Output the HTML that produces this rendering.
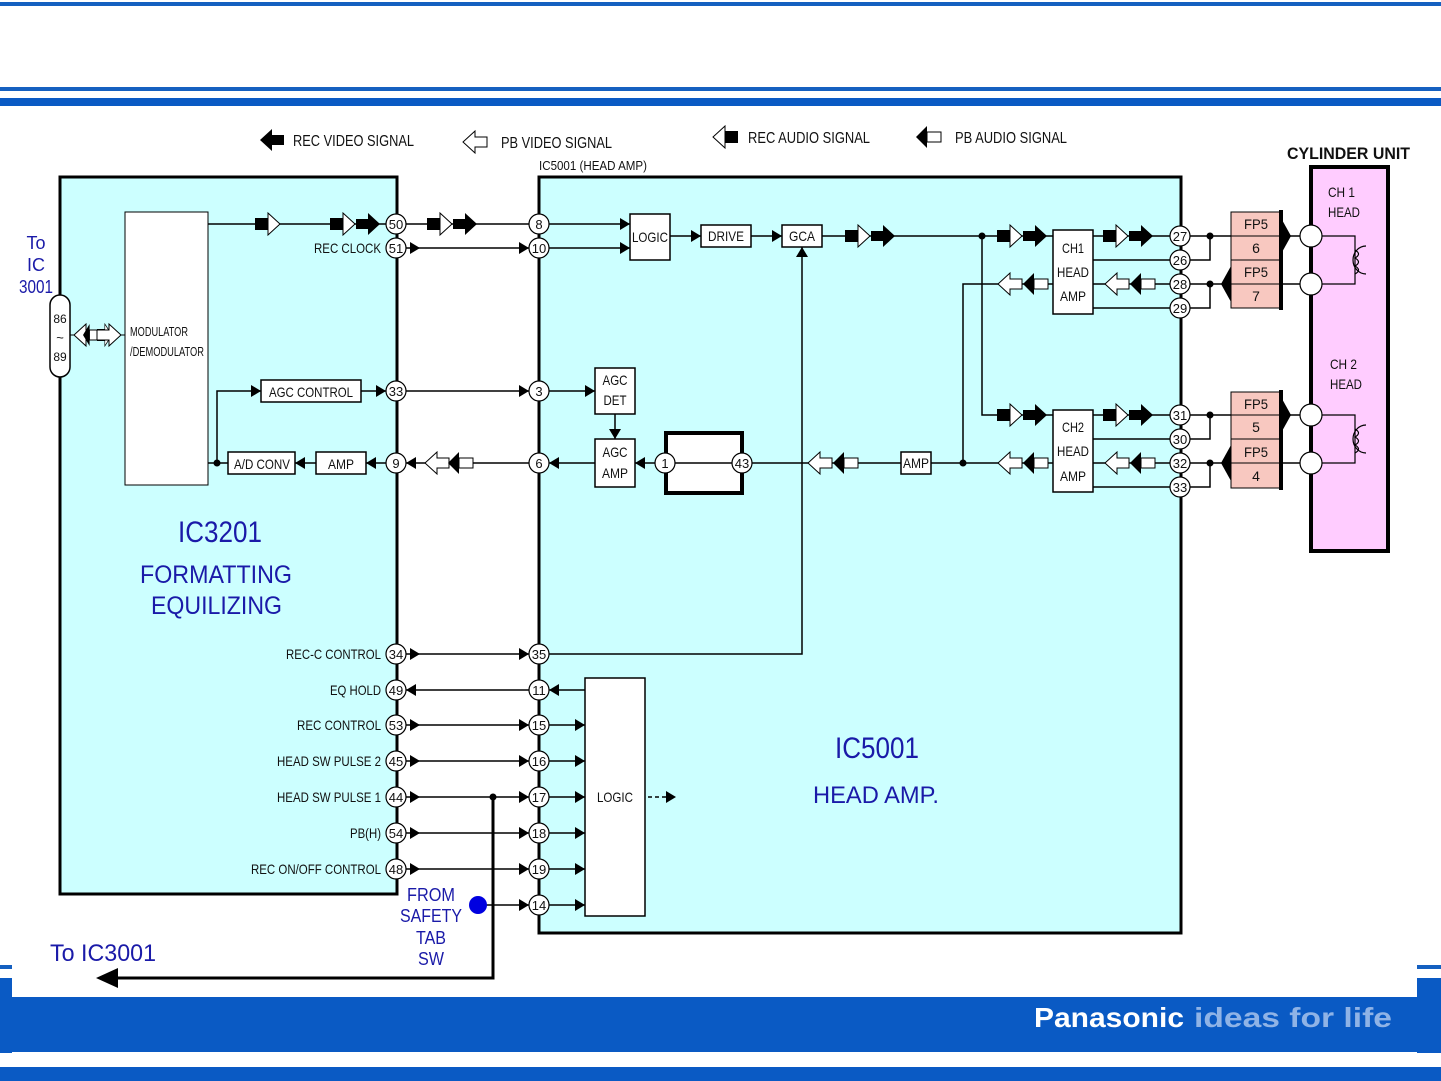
<!DOCTYPE html>
<html><head><meta charset="utf-8"><style>
html,body{margin:0;padding:0;background:#fff}
svg{display:block}
text{font-family:"Liberation Sans",sans-serif;fill:#111}
.b{fill:#1a1aa8;font-family:"Liberation Sans",sans-serif}
</style></head><body>
<svg width="1441" height="1081" viewBox="0 0 1441 1081" xmlns="http://www.w3.org/2000/svg">
<defs>
<g id="bk"><polygon points="0,-5 12,-5 12,-11 24,0 12,11 12,5 0,5" fill="#000"/></g>
<g id="rh"><rect x="0" y="-6" width="13" height="12" fill="#000"/><polygon points="13,-11 25,0 13,11" fill="#fff" stroke="#000" stroke-width="1"/></g>
<g id="ho"><polygon points="0,-5 12,-5 12,-11 24,0 12,11 12,5 0,5" fill="#fff" stroke="#000" stroke-width="1"/></g>
<g id="bh"><rect x="0" y="-5" width="14" height="10" fill="#fff" stroke="#000" stroke-width="1"/><polygon points="14,-11 25,0 14,11" fill="#000"/></g>
<g id="ah"><polygon points="-10,-6 0,0 -10,6" fill="#000"/></g>
</defs>

<rect x="0" y="2" width="1441" height="4" fill="#1560c0"/>
<rect x="0" y="87" width="1441" height="4" fill="#1560c0"/>
<rect x="0" y="98" width="1441" height="8" fill="#0a5ac4"/>
<rect x="0" y="965" width="12" height="4" fill="#1560c0"/>
<rect x="1417" y="965" width="24" height="4" fill="#1560c0"/>
<rect x="0" y="978" width="12" height="75" fill="#0a5ac4"/>
<rect x="1417" y="978" width="24" height="75" fill="#0a5ac4"/>
<rect x="0" y="997" width="1441" height="55" fill="#0a5ac4"/>
<rect x="0" y="1067" width="1441" height="14" fill="#0a5ac4"/>
<text x="1034" y="1027" style="font-weight:bold;font-size:28px;fill:#fff" textLength="150" lengthAdjust="spacingAndGlyphs">Panasonic</text>
<text x="1194" y="1027" style="font-weight:bold;font-size:28px;fill:#8fb3e6" textLength="198" lengthAdjust="spacingAndGlyphs">ideas for life</text>

<use href="#bk" transform="translate(284,140) scale(-1,1)"/>
<text x="293" y="146" font-size="16" textLength="121" lengthAdjust="spacingAndGlyphs">REC VIDEO SIGNAL</text>
<use href="#ho" transform="translate(487,142) scale(-1,1)"/>
<text x="501" y="148" font-size="16" textLength="111" lengthAdjust="spacingAndGlyphs">PB VIDEO SIGNAL</text>
<use href="#rh" transform="translate(738,137) scale(-1,1)"/>
<text x="748" y="143" font-size="16" textLength="122" lengthAdjust="spacingAndGlyphs">REC AUDIO SIGNAL</text>
<use href="#bh" transform="translate(941,137) scale(-1,1)"/>
<text x="955" y="143" font-size="16" textLength="112" lengthAdjust="spacingAndGlyphs">PB AUDIO SIGNAL</text>
<text x="539" y="170" font-size="13" textLength="108" lengthAdjust="spacingAndGlyphs">IC5001 (HEAD AMP)</text>
<text x="1287" y="159" style="font-weight:bold;font-size:17px" textLength="123" lengthAdjust="spacingAndGlyphs">CYLINDER UNIT</text>

<rect x="60" y="177" width="337" height="717" fill="#ccffff" stroke="#000" stroke-width="3"/>
<rect x="539" y="177" width="642" height="756" fill="#ccffff" stroke="#000" stroke-width="3"/>
<rect x="1311" y="167" width="77" height="384" fill="#ffccff" stroke="#000" stroke-width="4"/>
<text x="1328" y="197" font-size="14" textLength="27" lengthAdjust="spacingAndGlyphs">CH 1</text><text x="1328" y="217" font-size="14" textLength="32" lengthAdjust="spacingAndGlyphs">HEAD</text>
<text x="1330" y="369" font-size="14" textLength="27" lengthAdjust="spacingAndGlyphs">CH 2</text><text x="1330" y="389" font-size="14" textLength="32" lengthAdjust="spacingAndGlyphs">HEAD</text>

<text class="b" x="36" y="249" font-size="18" text-anchor="middle">To</text>
<text class="b" x="36" y="271" font-size="18" text-anchor="middle">IC</text>
<text class="b" x="36" y="293" font-size="18" text-anchor="middle" textLength="34" lengthAdjust="spacingAndGlyphs">3001</text>
<rect x="50" y="295" width="20" height="82" rx="10" fill="#fff" stroke="#000" stroke-width="1.5"/>
<text x="60" y="323" font-size="12" text-anchor="middle">86</text>
<text x="60" y="342" font-size="13" text-anchor="middle">~</text>
<text x="60" y="361" font-size="12" text-anchor="middle">89</text>
<line x1="70" y1="335" x2="125" y2="335" stroke="#000"/>
<use href="#ho" transform="translate(98,335) scale(-1,1)"/>
<use href="#bh" transform="translate(98,335) scale(-0.6,1)"/>
<use href="#rh" transform="translate(97,335) scale(0.6,1)"/>
<use href="#ho" transform="translate(97,335)"/>
<rect x="125" y="212" width="83" height="273" fill="#fff" stroke="#000"/>
<text x="130" y="336" font-size="13" textLength="58" lengthAdjust="spacingAndGlyphs">MODULATOR</text>
<text x="130" y="356" font-size="13" textLength="74" lengthAdjust="spacingAndGlyphs">/DEMODULATOR</text>

<g stroke="#000" stroke-width="1.5" fill="none">
<line x1="208" y1="224" x2="386" y2="224"/>
<line x1="406" y1="224" x2="529" y2="224"/>
<line x1="549" y1="224" x2="630" y2="224"/>
<line x1="406" y1="248" x2="529" y2="248"/>
<line x1="549" y1="248" x2="630" y2="248"/>
<line x1="670" y1="236" x2="701" y2="236"/>
<line x1="751" y1="236" x2="782" y2="236"/>
<line x1="822" y1="236" x2="1053" y2="236"/>
<polyline points="982,236 982,415 1053,415"/>
<line x1="1093" y1="236" x2="1170" y2="236"/>
<line x1="1093" y1="260" x2="1170" y2="260"/>
<line x1="1093" y1="284" x2="1170" y2="284"/>
<line x1="1093" y1="308" x2="1170" y2="308"/>
<line x1="1093" y1="415" x2="1170" y2="415"/>
<line x1="1093" y1="439" x2="1170" y2="439"/>
<line x1="1093" y1="463" x2="1170" y2="463"/>
<line x1="1093" y1="487" x2="1170" y2="487"/>
<polyline points="1053,284 963,284 963,463"/>
<line x1="931" y1="463" x2="1053" y2="463"/>
<line x1="743" y1="463" x2="901" y2="463"/>
<line x1="635" y1="463" x2="655" y2="463"/>
<line x1="549" y1="463" x2="595" y2="463"/>
<line x1="406" y1="463" x2="529" y2="463"/>
<line x1="366" y1="463" x2="386" y2="463"/>
<line x1="295" y1="463" x2="316" y2="463"/>
<polyline points="228,463 208,463"/>
<polyline points="217,463 217,391 261,391"/>
<line x1="361" y1="391" x2="386" y2="391"/>
<line x1="406" y1="391" x2="529" y2="391"/>
<line x1="549" y1="391" x2="595" y2="391"/>
<line x1="615" y1="414" x2="615" y2="439"/>
<polyline points="549,654 802,654 802,247"/>
<line x1="406" y1="654" x2="529" y2="654"/>
<line x1="406" y1="690" x2="529" y2="690"/>
<line x1="549" y1="690" x2="585" y2="690"/>
<line x1="406" y1="725" x2="529" y2="725"/><line x1="549" y1="725" x2="585" y2="725"/>
<line x1="406" y1="761" x2="529" y2="761"/><line x1="549" y1="761" x2="585" y2="761"/>
<line x1="406" y1="797" x2="529" y2="797"/><line x1="549" y1="797" x2="585" y2="797"/>
<line x1="406" y1="833" x2="529" y2="833"/><line x1="549" y1="833" x2="585" y2="833"/>
<line x1="406" y1="869" x2="529" y2="869"/><line x1="549" y1="869" x2="585" y2="869"/>
<line x1="478" y1="905" x2="529" y2="905"/><line x1="549" y1="905" x2="585" y2="905"/>
<line x1="648" y1="797" x2="668" y2="797" stroke-dasharray="4,3"/>
<polyline points="1190,236 1300,236"/><polyline points="1190,260 1210,260 1210,236"/>
<polyline points="1190,284 1300,284"/><polyline points="1190,308 1210,308 1210,284"/>
<polyline points="1190,415 1300,415"/><polyline points="1190,439 1210,439 1210,415"/>
<polyline points="1190,463 1300,463"/><polyline points="1190,487 1210,487 1210,463"/>
</g>
<polyline points="493,797 493,978 110,978" fill="none" stroke="#000" stroke-width="3"/>
<polygon points="96,978 118,968 118,988" fill="#000"/>
<text class="b" x="50" y="961" font-size="24" textLength="106" lengthAdjust="spacingAndGlyphs">To IC3001</text>

<g fill="#000">
<circle cx="982" cy="236" r="3.5"/><circle cx="963" cy="463" r="3.5"/><circle cx="217" cy="463" r="3.5"/>
<circle cx="493" cy="797" r="3.5"/>
<circle cx="1210" cy="236" r="3.5"/><circle cx="1210" cy="284" r="3.5"/><circle cx="1210" cy="415" r="3.5"/><circle cx="1210" cy="463" r="3.5"/>
</g>
<circle cx="478" cy="905" r="9" fill="#0000e0"/>
<text class="b" x="431" y="901" font-size="18" text-anchor="middle" textLength="48" lengthAdjust="spacingAndGlyphs">FROM</text>
<text class="b" x="431" y="922" font-size="18" text-anchor="middle" textLength="62" lengthAdjust="spacingAndGlyphs">SAFETY</text>
<text class="b" x="431" y="944" font-size="18" text-anchor="middle" textLength="30" lengthAdjust="spacingAndGlyphs">TAB</text>
<text class="b" x="431" y="965" font-size="18" text-anchor="middle" textLength="26" lengthAdjust="spacingAndGlyphs">SW</text>

<use href="#ah" transform="translate(630,224)"/><use href="#ah" transform="translate(630,248)"/>
<use href="#ah" transform="translate(529,248)"/><use href="#ah" transform="translate(420,248)"/>
<use href="#ah" transform="translate(701,236)"/><use href="#ah" transform="translate(782,236)"/>
<use href="#ah" transform="translate(802,247) rotate(-90)"/>
<use href="#ah" transform="translate(261,391)"/><use href="#ah" transform="translate(386,391)"/>
<use href="#ah" transform="translate(529,391)"/><use href="#ah" transform="translate(595,391)"/>
<use href="#ah" transform="translate(615,439) rotate(90)"/>
<use href="#ah" transform="translate(635,463) scale(-1,1)"/>
<use href="#ah" transform="translate(549,463) scale(-1,1)"/>
<use href="#ah" transform="translate(406,463) scale(-1,1)"/>
<use href="#ah" transform="translate(366,463) scale(-1,1)"/>
<use href="#ah" transform="translate(295,463) scale(-1,1)"/>
<use href="#ah" transform="translate(420,654)"/><use href="#ah" transform="translate(529,654)"/>
<use href="#ah" transform="translate(406,690) scale(-1,1)"/><use href="#ah" transform="translate(549,690) scale(-1,1)"/>
<use href="#ah" transform="translate(420,725)"/><use href="#ah" transform="translate(529,725)"/><use href="#ah" transform="translate(585,725)"/>
<use href="#ah" transform="translate(420,761)"/><use href="#ah" transform="translate(529,761)"/><use href="#ah" transform="translate(585,761)"/>
<use href="#ah" transform="translate(420,797)"/><use href="#ah" transform="translate(529,797)"/><use href="#ah" transform="translate(585,797)"/>
<use href="#ah" transform="translate(420,833)"/><use href="#ah" transform="translate(529,833)"/><use href="#ah" transform="translate(585,833)"/>
<use href="#ah" transform="translate(420,869)"/><use href="#ah" transform="translate(529,869)"/><use href="#ah" transform="translate(585,869)"/>
<use href="#ah" transform="translate(529,905)"/><use href="#ah" transform="translate(585,905)"/>
<use href="#ah" transform="translate(676,797)"/>

<use href="#rh" transform="translate(255,224)"/>
<use href="#rh" transform="translate(330,224)"/><use href="#bk" transform="translate(356,224)"/>
<use href="#rh" transform="translate(427,224)"/><use href="#bk" transform="translate(453,224)"/>
<use href="#rh" transform="translate(845,236)"/><use href="#bk" transform="translate(871,236)"/>
<use href="#rh" transform="translate(997,236)"/><use href="#bk" transform="translate(1023,236)"/>
<use href="#rh" transform="translate(997,415)"/><use href="#bk" transform="translate(1023,415)"/>
<use href="#rh" transform="translate(1103,236)"/><use href="#bk" transform="translate(1129,236)"/>
<use href="#rh" transform="translate(1103,415)"/><use href="#bk" transform="translate(1129,415)"/>
<use href="#ho" transform="translate(1022,284) scale(-1,1)"/><use href="#bh" transform="translate(1048,284) scale(-1,1)"/>
<use href="#ho" transform="translate(1129,284) scale(-1,1)"/><use href="#bh" transform="translate(1155,284) scale(-1,1)"/>
<use href="#ho" transform="translate(1022,463) scale(-1,1)"/><use href="#bh" transform="translate(1048,463) scale(-1,1)"/>
<use href="#ho" transform="translate(1129,463) scale(-1,1)"/><use href="#bh" transform="translate(1155,463) scale(-1,1)"/>
<use href="#ho" transform="translate(832,463) scale(-1,1)"/><use href="#bh" transform="translate(858,463) scale(-1,1)"/>
<use href="#ho" transform="translate(449,463) scale(-1,1)"/><use href="#bh" transform="translate(473,463) scale(-1,1)"/>

<g fill="#fff" stroke="#000" stroke-width="1.5">
<rect x="630" y="214" width="40" height="46"/>
<rect x="701" y="225" width="50" height="22"/>
<rect x="782" y="225" width="40" height="22"/>
<rect x="595" y="368" width="40" height="46"/>
<rect x="595" y="439" width="40" height="48"/>
<rect x="901" y="452" width="30" height="22"/>
<rect x="1053" y="230" width="40" height="84"/>
<rect x="1053" y="410" width="40" height="82"/>
<rect x="261" y="380" width="100" height="22"/>
<rect x="228" y="452" width="67" height="22"/>
<rect x="316" y="452" width="50" height="22"/>
<rect x="585" y="678" width="60" height="238"/>
</g>
<rect x="666" y="433" width="76" height="60" fill="#fff" stroke="#000" stroke-width="4"/>
<line x1="666" y1="463" x2="742" y2="463" stroke="#000" stroke-width="1.5"/>
<g font-size="14" text-anchor="middle" lengthAdjust="spacingAndGlyphs">
<text x="650" y="242" textLength="36" lengthAdjust="spacingAndGlyphs">LOGIC</text>
<text x="726" y="241" textLength="36" lengthAdjust="spacingAndGlyphs">DRIVE</text>
<text x="802" y="241" textLength="26" lengthAdjust="spacingAndGlyphs">GCA</text>
<text x="615" y="385" textLength="25" lengthAdjust="spacingAndGlyphs">AGC</text><text x="615" y="405" textLength="23" lengthAdjust="spacingAndGlyphs">DET</text>
<text x="615" y="457" textLength="25" lengthAdjust="spacingAndGlyphs">AGC</text><text x="615" y="478" textLength="26" lengthAdjust="spacingAndGlyphs">AMP</text>
<text x="916" y="468" textLength="26" lengthAdjust="spacingAndGlyphs">AMP</text>
<text x="1073" y="253" textLength="22" lengthAdjust="spacingAndGlyphs">CH1</text><text x="1073" y="277" textLength="32" lengthAdjust="spacingAndGlyphs">HEAD</text><text x="1073" y="301" textLength="26" lengthAdjust="spacingAndGlyphs">AMP</text>
<text x="1073" y="432" textLength="22" lengthAdjust="spacingAndGlyphs">CH2</text><text x="1073" y="456" textLength="32" lengthAdjust="spacingAndGlyphs">HEAD</text><text x="1073" y="481" textLength="26" lengthAdjust="spacingAndGlyphs">AMP</text>
<text x="311" y="397" textLength="84" lengthAdjust="spacingAndGlyphs">AGC CONTROL</text>
<text x="262" y="469" textLength="56" lengthAdjust="spacingAndGlyphs">A/D CONV</text>
<text x="341" y="469" textLength="26" lengthAdjust="spacingAndGlyphs">AMP</text>
<text x="615" y="802" textLength="36" lengthAdjust="spacingAndGlyphs">LOGIC</text>
</g>
<g font-size="14" text-anchor="end">
<text x="381" y="253" textLength="67" lengthAdjust="spacingAndGlyphs">REC CLOCK</text>
<text x="381" y="659" textLength="95" lengthAdjust="spacingAndGlyphs">REC-C CONTROL</text>
<text x="381" y="695" textLength="51" lengthAdjust="spacingAndGlyphs">EQ HOLD</text>
<text x="381" y="730" textLength="84" lengthAdjust="spacingAndGlyphs">REC CONTROL</text>
<text x="381" y="766" textLength="104" lengthAdjust="spacingAndGlyphs">HEAD SW PULSE 2</text>
<text x="381" y="802" textLength="104" lengthAdjust="spacingAndGlyphs">HEAD SW PULSE 1</text>
<text x="381" y="838" textLength="31" lengthAdjust="spacingAndGlyphs">PB(H)</text>
<text x="381" y="874" textLength="130" lengthAdjust="spacingAndGlyphs">REC ON/OFF CONTROL</text>
</g>

<text class="b" x="178" y="542" font-size="30" textLength="84" lengthAdjust="spacingAndGlyphs">IC3201</text>
<text class="b" x="140" y="583" font-size="25" textLength="152" lengthAdjust="spacingAndGlyphs">FORMATTING</text>
<text class="b" x="151" y="614" font-size="25" textLength="131" lengthAdjust="spacingAndGlyphs">EQUILIZING</text>
<text class="b" x="835" y="758" font-size="30" textLength="84" lengthAdjust="spacingAndGlyphs">IC5001</text>
<text class="b" x="813" y="803" font-size="24" textLength="126" lengthAdjust="spacingAndGlyphs">HEAD AMP.</text>

<g stroke="#000" stroke-width="1">
<rect x="1231" y="212" width="50" height="96" fill="#f8c8c0"/>
<rect x="1231" y="392" width="50" height="96" fill="#f8c8c0"/>
<line x1="1231" y1="236" x2="1281" y2="236"/><line x1="1231" y1="260" x2="1281" y2="260"/><line x1="1231" y1="284" x2="1281" y2="284"/>
<line x1="1231" y1="415" x2="1281" y2="415"/><line x1="1231" y1="439" x2="1281" y2="439"/><line x1="1231" y1="463" x2="1281" y2="463"/>
</g>
<g fill="#000">
<rect x="1279" y="210" width="4" height="100"/><rect x="1279" y="390" width="4" height="100"/>
<polygon points="1281,218 1291,236 1281,254"/><polygon points="1281,397 1291,415 1281,433"/>
<polygon points="1231,266 1221,284 1231,302"/><polygon points="1231,445 1221,463 1231,481"/>
</g>
<g font-size="14" text-anchor="middle">
<text x="1256" y="229" textLength="24" lengthAdjust="spacingAndGlyphs">FP5</text><text x="1256" y="253">6</text><text x="1256" y="277" textLength="24" lengthAdjust="spacingAndGlyphs">FP5</text><text x="1256" y="301">7</text>
<text x="1256" y="409" textLength="24" lengthAdjust="spacingAndGlyphs">FP5</text><text x="1256" y="432">5</text><text x="1256" y="457" textLength="24" lengthAdjust="spacingAndGlyphs">FP5</text><text x="1256" y="481">4</text>
</g>
<g fill="#fff" stroke="#000" stroke-width="1.2">
<circle cx="1311" cy="236" r="11"/><circle cx="1311" cy="284" r="11"/><circle cx="1311" cy="415" r="11"/><circle cx="1311" cy="463" r="11"/>
</g>
<g fill="none" stroke="#000" stroke-width="1.2">
<polyline points="1322,236 1355,236 1355,284 1322,284"/>
<polyline points="1322,415 1355,415 1355,463 1322,463"/>
<path d="M1366,246 A13,14 0 1,0 1366,274"/><path d="M1355,250 q7,4 0,8 q7,4 0,8 q7,4 0,8"/>
<path d="M1366,425 A13,14 0 1,0 1366,453"/><path d="M1355,429 q7,4 0,8 q7,4 0,8 q7,4 0,8"/>
</g>

<g fill="#fff" stroke="#000" stroke-width="1.2">
<circle cx="396" cy="224" r="10"/><circle cx="396" cy="248" r="10"/><circle cx="396" cy="391" r="10"/><circle cx="396" cy="463" r="10"/>
<circle cx="396" cy="654" r="10"/><circle cx="396" cy="690" r="10"/><circle cx="396" cy="725" r="10"/><circle cx="396" cy="761" r="10"/>
<circle cx="396" cy="797" r="10"/><circle cx="396" cy="833" r="10"/><circle cx="396" cy="869" r="10"/>
<circle cx="539" cy="224" r="10"/><circle cx="539" cy="248" r="10"/><circle cx="539" cy="391" r="10"/><circle cx="539" cy="463" r="10"/>
<circle cx="539" cy="654" r="10"/><circle cx="539" cy="690" r="10"/><circle cx="539" cy="725" r="10"/><circle cx="539" cy="761" r="10"/>
<circle cx="539" cy="797" r="10"/><circle cx="539" cy="833" r="10"/><circle cx="539" cy="869" r="10"/><circle cx="539" cy="905" r="10"/>
<circle cx="665" cy="463" r="10"/><circle cx="742" cy="463" r="10"/>
<circle cx="1180" cy="236" r="10"/><circle cx="1180" cy="260" r="10"/><circle cx="1180" cy="284" r="10"/><circle cx="1180" cy="308" r="10"/>
<circle cx="1180" cy="415" r="10"/><circle cx="1180" cy="439" r="10"/><circle cx="1180" cy="463" r="10"/><circle cx="1180" cy="487" r="10"/>
</g>
<g font-size="13" text-anchor="middle">
<text x="396" y="229">50</text><text x="396" y="253">51</text><text x="396" y="396">33</text><text x="396" y="468">9</text>
<text x="396" y="659">34</text><text x="396" y="695">49</text><text x="396" y="730">53</text><text x="396" y="766">45</text>
<text x="396" y="802">44</text><text x="396" y="838">54</text><text x="396" y="874">48</text>
<text x="539" y="229">8</text><text x="539" y="253">10</text><text x="539" y="396">3</text><text x="539" y="468">6</text>
<text x="539" y="659">35</text><text x="539" y="695">11</text><text x="539" y="730">15</text><text x="539" y="766">16</text>
<text x="539" y="802">17</text><text x="539" y="838">18</text><text x="539" y="874">19</text><text x="539" y="910">14</text>
<text x="665" y="468">1</text><text x="742" y="468">43</text>
<text x="1180" y="241">27</text><text x="1180" y="265">26</text><text x="1180" y="289">28</text><text x="1180" y="313">29</text>
<text x="1180" y="420">31</text><text x="1180" y="444">30</text><text x="1180" y="468">32</text><text x="1180" y="492">33</text>
</g>
</svg>
</body></html>
